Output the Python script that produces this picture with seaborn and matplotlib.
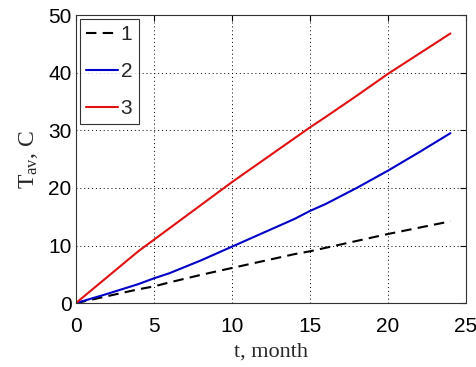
import numpy as np
import pandas as pd
import matplotlib
matplotlib.use("Agg")
import matplotlib.pyplot as plt
import seaborn as sns

# Average temperature growth over time for three cases
months = [0, 2, 4, 5, 6, 8, 10, 12, 14, 15, 16, 18, 20, 22, 24]
temp_1 = [0, 1.2, 2.4, 2.9, 3.6, 4.9, 6.1, 7.3, 8.5, 9.0, 9.6, 10.8, 12.0, 13.1, 14.2]
temp_2 = [0, 1.6, 3.3, 4.3, 5.2, 7.4, 9.8, 12.2, 14.6, 16.0, 17.2, 20.0, 23.0, 26.2, 29.5]
temp_3 = [0, 4.5, 9.0, 11.0, 13.0, 17.0, 21.0, 24.8, 28.6, 30.5, 32.3, 36.0, 39.8, 43.3, 46.8]
series_labels = ["1", "2", "3"]
x_ticks = [0, 5, 10, 15, 20, 25]
y_ticks = [0, 10, 20, 30, 40, 50]

sns.set_style("white")
plt.rcParams["font.family"] = ["Liberation Sans", "DejaVu Sans"]
plt.rcParams["mathtext.fontset"] = "custom"
plt.rcParams["mathtext.rm"] = "Liberation Serif"
plt.rcParams["mathtext.default"] = "rm"

fig = plt.figure(figsize=(4.77, 3.67), dpi=100)
ax = fig.add_axes([0.159, 0.174, 0.818, 0.785])

styles = [("black", (0, (5, 3)), temp_1),
          ("#0000c8", "-", temp_2),
          ("#e01010", "-", temp_3)]
for lab, (col, ls, vals) in zip(series_labels, styles):
    df = pd.DataFrame({"t": months, "T": vals})
    sns.lineplot(data=df, x="t", y="T", ax=ax, color=col, linestyle=ls,
                 linewidth=1.5, label=lab)

ax.set_xlim(0, 25)
ax.set_ylim(0, 50)
ax.set_xticks(x_ticks)
ax.set_yticks(y_ticks)
ax.tick_params(direction="in", length=4, labelsize=15, colors="black",
               top=True, right=True)
ax.tick_params(axis="x", pad=10)
ax.tick_params(axis="y", pad=3)
ax.grid(True, color="black", linestyle=(0, (1, 3)), linewidth=0.7)
for sp in ax.spines.values():
    sp.set_color("#333333")
    sp.set_linewidth(0.8)

ax.set_xlabel("t, month", fontfamily="Liberation Serif", fontsize=16, labelpad=5)
ax.set_ylabel("T$_{av}$, C", fontfamily="Liberation Serif", fontsize=17, labelpad=6)

leg = ax.legend(loc="upper left", fontsize=15, frameon=True, fancybox=False,
                edgecolor="black", handlelength=1.5, handletextpad=0.15,
                borderpad=0.3, labelspacing=0.85, borderaxespad=0.2)
leg.get_frame().set_linewidth(0.8)

fig.savefig("out.png", dpi=100)
